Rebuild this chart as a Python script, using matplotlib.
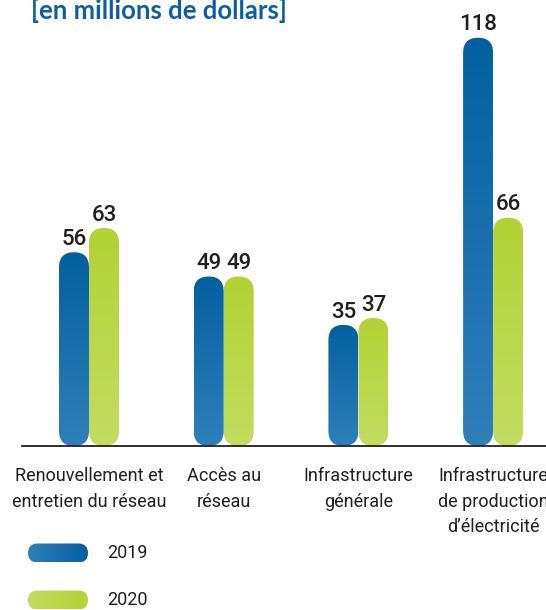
import numpy as np
import matplotlib
matplotlib.use("Agg")
import matplotlib.pyplot as plt
from matplotlib.patches import FancyBboxPatch
from matplotlib.colors import LinearSegmentedColormap

categories = [
    "Renouvellement et\nentretien du réseau",
    "Accès au\nréseau",
    "Infrastructure\ngénérale",
    "Infrastructure\nde production\nd\u2019électricité",
]
values_2019 = [56, 49, 35, 118]
values_2020 = [63, 49, 37, 66]
years = ["2019", "2020"]
title = "[en millions de dollars]"

W, H = 546, 610
fig = plt.figure(figsize=(W / 100, H / 100), dpi=100)
ax = fig.add_axes([0, 0, 1, 1])

# pixel geometry -> data units
x0_px, step_px = 89, 134.7
base_px, ppu = 446, 3.46
ax.set_xlim(-x0_px / step_px, (W - x0_px) / step_px)
ax.set_ylim(-(H - base_px) / ppu, base_px / ppu)
ax.axis("off")

bar_w = 30 / step_px
aspect = (1 / ppu) / (1 / step_px)  # y units per x unit for same pixel length

blue_cm = LinearSegmentedColormap.from_list("b", ["#2f80b9", "#03609f"])
green_cm = LinearSegmentedColormap.from_list("g", ["#c4dc60", "#b2d235"])
grad_v = np.linspace(0, 1, 256).reshape(-1, 1)
grad_h = np.linspace(0, 1, 256).reshape(1, -1)

label_font = ["Roboto", "DejaVu Sans"]


def pill(x, y, w, h, cmap, grad):
    r = min(w, h / aspect) / 2
    p = FancyBboxPatch((x, y), w, h, boxstyle=f"round,pad=0,rounding_size={r}",
                       mutation_aspect=aspect, lw=0, fc="none")
    ax.add_patch(p)
    im = ax.imshow(grad, cmap=cmap, extent=(x, x + w, y, y + h), origin="lower",
                   aspect="auto", zorder=2)
    im.set_clip_path(p)


for i, (v1, v2) in enumerate(zip(values_2019, values_2020)):
    for off, v, cm in [(-bar_w / 2, v1, blue_cm), (bar_w / 2, v2, green_cm)]:
        xc = i + off
        pill(xc - bar_w / 2, 0, bar_w, v, cm, grad_v)
        ax.text(xc, v + 2.1, str(v), ha="center", va="baseline", fontsize=16,
                color="#231f20", family=label_font, fontweight="medium")
    ax.text(i, -6.2, categories[i], ha="center", va="top", fontsize=13,
            color="#231f20", family=label_font, linespacing=1.52)

ax.axhline(0, xmin=22 / W, xmax=1, color="#231f20", lw=1.3, zorder=3)

# legend
for k, (yr, cm) in enumerate(zip(years, [blue_cm, green_cm])):
    yc = -(553 + 47 * k - base_px) / ppu
    lx = (28 - x0_px) / step_px
    lw = 60 / step_px
    lh = 19 / ppu
    pill(lx, yc - lh / 2, lw, lh, cm, grad_h)
    ax.text((107 - x0_px) / step_px, yc, yr, ha="left", va="center",
            fontsize=13, color="#231f20", family=label_font)

ax.set_xlim(-x0_px / step_px, (W - x0_px) / step_px)
ax.set_ylim(-(H - base_px) / ppu, base_px / ppu)

fig.text(31 / W, 1 - 19 / H, title, ha="left", va="baseline", fontsize=18.5,
         fontweight="bold", color="#0b5ea5", family=["Lato", "DejaVu Sans"])

fig.savefig("out.png", dpi=100)
